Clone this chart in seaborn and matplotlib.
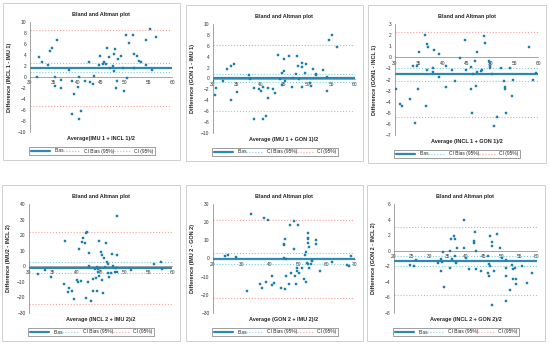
import numpy as np
import pandas as pd
import matplotlib
matplotlib.use("Agg")
import matplotlib.pyplot as plt
from matplotlib.patches import Rectangle
import seaborn as sns

# %% data
p1_avg = [31.4, 31.9, 32.5, 33.9, 34.2, 34.7, 35.2, 35.3, 35.6, 36.5, 36.5, 38.3, 38.8, 38.9, 39.3,
          40.2, 40.4, 40.4, 40.8, 41.7, 42.4, 42.7, 43.4, 43.6, 44.5, 44.8, 45.4, 45.6, 46.1, 46.2,
          46.7, 47.0, 47.5, 47.8, 47.8, 48.0, 48.3, 48.2, 48.5, 49.3, 49.6, 49.8, 50.2, 50.5, 50.9,
          51.8, 51.9, 52.0, 52.7, 53.1, 53.5, 54.6, 54.5, 55.4, 55.7, 56.6]
p1_diff = [0.0, 3.7, 2.7, 2.1, 4.7, 5.3, -1.7, 0.0, 6.7, -0.5, -2.0, 1.2, -6.7, -0.7, -3.0,
           -1.9, 0.0, -7.6, -6.2, -0.8, 2.8, -0.9, -1.3, 0.1, 2.1, 3.8, 2.4, 2.7, 2.4, 5.2,
           3.7, 1.6, 2.0, 4.2, 1.1, 5.1, -0.8, -2.0, 3.2, 3.8, 1.7, -2.6, 7.7, -0.1, 6.2,
           7.6, 4.1, 1.6, 3.8, 3.0, 2.7, 2.2, 6.8, 8.8, 1.3, 7.2]
p1_lines = [1.7, 0.9, 2.6, -5.2, 8.5]  # bias, CI bias low/high, CI low/high

p2_avg = [30.0, 30.4, 30.6, 32.1, 33.0, 33.7, 33.7, 34.5, 35.1, 37.6, 37.9, 38.6, 38.7, 39.7,
          40.1, 40.6, 40.6, 41.2, 41.7, 41.7, 42.7, 43.1, 43.7, 44.2, 44.5, 44.6, 45.0, 45.1,
          45.2, 46.0, 46.7, 47.0, 47.5, 47.8, 48.1, 48.0, 48.7, 48.8, 48.8, 49.4, 49.6, 50.5,
          50.7, 51.2, 51.7, 51.7, 53.3, 54.0, 54.1, 54.6, 55.2, 56.2]
p2_diff = [-0.5, -3.1, -1.7, -0.5, 1.7, 2.3, -3.9, 2.7, -2.5, 0.7, -0.1, -7.5, -1.7, -1.9,
           -2.3, -7.4, -1.5, -6.9, -1.7, -3.6, -2.0, -2.6, 4.4, -0.1, 1.0, -1.2, 3.6, 1.3,
           -0.4, 4.1, -1.5, 0.1, 0.9, 4.1, -0.1, 2.3, 2.8, -1.5, 2.1, 1.0, 2.6, -0.9,
           -1.3, 1.7, 0.9, 0.6, 1.5, 0.2, -2.3, 7.1, 8.0, 5.8]
p2_lines = [0.1, -0.6, 0.9, -5.9, 6.2]

p3_avg = [30.2, 31.1, 31.4, 33.2, 33.7, 34.2, 34.6, 34.8, 35.0, 36.2, 36.6, 36.7, 36.9, 36.8,
          38.0, 38.0, 38.1, 39.2, 39.2, 40.7, 40.7, 42.0, 42.5, 43.6, 44.6, 44.8, 46.0, 46.0,
          46.1, 46.3, 46.8, 47.0, 47.2, 47.3, 48.1, 48.2, 48.6, 48.9, 49.7, 49.9, 50.0, 50.0,
          50.3, 50.7, 51.4, 52.2, 52.8, 53.1, 53.1, 53.3, 54.1, 54.5, 54.8, 58.2, 58.9, 59.6]
p3_diff = [-2.9, -4.2, -4.4, -3.8, -0.8, -5.9, -0.8, -2.9, 0.5, 2.0, -4.4, 1.2, 0.9, -1.1,
           -1.0, -1.3, 0.7, 0.3, -1.8, -0.8, -2.7, -1.1, -2.1, -0.1, 1.6, -1.1, -0.9, -2.9,
           -5.0, -1.5, -0.3, -2.6, -1.3, 0.5, -1.2, -1.1, 1.9, 1.3, -0.3, -0.5, -0.8, -1.0,
           -1.5, -6.2, -5.4, -1.0, -2.1, -2.7, -2.9, -5.0, -1.0, -3.5, -2.0, 0.9, -2.0, -1.4]
p3_lines = [-1.5, -2.1, -1.0, -5.4, 2.25]

p4_avg = [31.8, 33.4, 34.6, 37.4, 37.5, 38.1, 38.4, 39.1, 39.5, 40.1, 40.2, 40.5, 40.9, 41.1,
          41.4, 41.7, 41.9, 42.1, 42.0, 42.4, 42.6, 42.5, 43.1, 43.4, 43.4, 43.9, 44.0, 44.3,
          44.3, 44.5, 44.5, 44.6, 44.7, 44.9, 45.1, 45.4, 45.4, 45.6, 45.7, 45.9, 46.1, 46.3,
          46.5, 46.6, 46.8, 47.1, 47.4, 47.7, 48.1, 48.2, 48.4, 48.4, 48.5, 51.4, 56.3, 57.6, 57.8]
p4_diff = [-4.9, -2.4, -6.9, -11.3, 16.1, -16.7, -14.1, -15.8, -21.0, -9.0, -9.9, 10.9, -9.4, 15.8,
           18.2, 14.8, 21.4, 22.3, -20.6, -10.3, 8.8, 0.2, -22.5, -8.1, -15.8, -1.9, -7.3, -15.8,
           -0.2, -1.7, -3.4, 16.3, -6.0, -1.3, 9.0, 7.3, -8.8, -17.3, 5.1, -0.2, 14.8, 2.6,
           1.3, -4.1, -6.6, -4.5, 7.7, 0.4, -3.9, -0.9, -3.4, 7.3, 32.3, -2.1, 1.3, 2.6, -1.7]
p4_lines = [-1.3, -4.3, 2.6, -24.2, 22.1]

p5_avg = [24.1, 25.3, 28.0, 31.8, 33.4, 36.7, 37.3, 37.9, 38.6, 39.5, 40.6, 40.6, 41.5, 44.0,
          44.9, 44.9, 44.9, 45.2, 45.5, 45.6, 45.6, 46.7, 47.0, 47.3, 48.4, 48.6, 49.0, 49.2,
          49.5, 49.5, 49.8, 50.2, 51.3, 52.0, 52.4, 52.6, 52.7, 53.2, 53.4, 53.4, 53.4, 53.5,
          53.6, 53.8, 53.9, 54.4, 54.7, 54.9, 56.2, 56.4, 57.6, 61.9, 67.3, 68.0, 68.6]
p5_diff = [1.3, 1.8, 0.6, -17.8, 24.4, -14.2, -16.4, 22.1, -13.2, 21.3, -9.6, -14.5, -13.6, -16.4,
           0.4, 7.9, 7.4, -16.9, 10.7, -0.4, -9.6, -13.8, 18.4, -8.1, 5.1, 20.6, -9.6, -14.2,
           -7.0, -5.5, 18.6, -8.1, -5.5, -11.4, 1.8, -13.2, 3.7, -2.6, 14.3, 11.4, 10.7, 8.3,
           -3.1, 6.6, -5.1, -3.1, -1.3, -0.7, 7.9, 10.1, -6.8, -2.2, -3.5, -4.0, 1.5]
p5_lines = [-0.2, -3.1, 2.8, -22.0, 21.0]

p6_avg = [24.4, 25.5, 26.1, 32.4, 33.1, 33.2, 33.4, 33.7, 34.0, 35.6, 35.8, 36.0, 36.3, 36.7,
          37.0, 37.0, 37.3, 37.4, 37.5, 39.6, 39.6, 40.1, 40.9, 42.3, 42.3, 42.6, 42.9, 43.0,
          44.3, 46.2, 46.4, 46.6, 46.7, 46.8, 46.8, 47.3, 47.5, 47.4, 48.1, 48.9, 49.7, 50.3,
          51.2, 51.3, 51.4, 51.2, 52.4, 53.0, 53.2, 53.3, 53.9, 54.0, 54.2, 55.9, 57.2, 58.5]
p6_diff = [-1.8, -1.9, -1.2, -1.6, -2.6, -1.0, -1.4, -0.2, -4.6, 0.0, -2.2, 1.5, -1.0, 1.9,
           1.5, -0.7, -1.4, -1.6, 0.4, 4.0, 0.3, -0.9, -2.3, 1.0, 1.2, 2.4, -0.1, -2.4,
           -2.6, -0.7, -2.9, -3.2, -1.7, 1.9, -1.9, 1.1, 0.6, -7.0, -2.6, 2.2, 0.4, -0.9,
           -1.2, -2.2, -3.2, -6.5, -5.0, -1.8, -2.4, -3.6, -2.2, -3.6, -4.3, -2.0, -4.1, -2.9]
p6_lines = [-1.3, -1.9, -0.7, -5.7, 3.0]

ylabels = ["Difference (INCL 1 - IMU 1)", "Difference (GON 1 - IMU 1)", "Difference (GON1 - INCL 1)",
           "Difference (IMU2 - INCL 2)", "Difference (IMU 2 - GON 2)", "Difference (GON 2 - INCL 2)"]
xlabels = ["Average(IMU 1 + INCL 1)/2", "Average (IMU 1 + GON 1)/2", "Average (INCL 1 + GON 1)/2",
           "Average (INCL 2 + IMU 2)/2", "Average (GON 2 + IMU 2)/2", "Average (INCL 2 + GON 2)/2"]
xticks = [range(30, 61, 5), range(30, 61, 5), range(30, 61, 5),
          range(30, 61, 5), range(20, 71, 10), range(20, 61, 5)]
yticks = [range(-10, 11, 2), range(-10, 11, 2), range(-7, 4, 1),
          range(-30, 41, 10), range(-30, 31, 10), range(-8, 7, 2)]

panels = [(p1_avg, p1_diff, p1_lines), (p2_avg, p2_diff, p2_lines), (p3_avg, p3_diff, p3_lines),
          (p4_avg, p4_diff, p4_lines), (p5_avg, p5_diff, p5_lines), (p6_avg, p6_diff, p6_lines)]

# %% layout in pixels (left, top, right, bottom) of each plot area
W, H = 550, 344
boxes = [(30, 22, 172, 132), (213, 24, 355, 133), (395, 24, 538, 135),
         (29, 204, 172, 313), (213, 204, 355, 313), (394, 204, 537, 313)]

sns.set_theme(style="white")
plt.rcParams["font.family"] = ["Liberation Sans", "DejaVu Sans"]

c_pts = "#1c7fae"
c_bias = "#2f88b3"
c_cib = "#7ccfe0"
c_ci = "#f5a3a3"

fig = plt.figure(figsize=(W / 100, H / 100), dpi=100)

for i, ((avg, diff, lines), (l, t, r, b)) in enumerate(zip(panels, boxes)):
    ax = fig.add_axes([l / W, 1 - b / H, (r - l) / W, (b - t) / H])
    # outer chart frame
    fig.patches.append(Rectangle(((l - 27) / W, 1 - (b + 28) / H), (r - l + 35) / W, (b - t + 47) / H,
                                 transform=fig.transFigure, fill=False, ec="#c8c8c8", lw=0.6))

    df = pd.DataFrame({"avg": avg, "diff": diff})
    bias, cib_lo, cib_hi, ci_lo, ci_hi = lines
    ax.axhline(bias, color=c_bias, lw=1.6, label="Bias", zorder=2)
    ax.axhline(cib_lo, color=c_cib, lw=0.8, ls=":", label="CI Bias (95%)", zorder=2)
    ax.axhline(cib_hi, color=c_cib, lw=0.8, ls=":", zorder=2)
    ax.axhline(ci_lo, color=c_ci, lw=0.8, ls=":", label="CI (95%)", zorder=2)
    ax.axhline(ci_hi, color=c_ci, lw=0.8, ls=":", zorder=2)
    sns.scatterplot(data=df, x="avg", y="diff", ax=ax, marker="s", s=4, color=c_pts,
                    edgecolor=c_pts, linewidth=0.3, zorder=3)

    xt, yt = list(xticks[i]), list(yticks[i])
    ax.set_xlim(xt[0], xt[-1])
    ax.set_ylim(yt[0], yt[-1])
    ax.set_xticks(xt)
    ax.set_yticks(yt)
    ax.tick_params(labelsize=3.5, length=1.5, width=0.4, pad=1, colors="#333333")

    for s in ["top", "right"]:
        ax.spines[s].set_visible(False)
    ax.spines["bottom"].set_position(("data", 0))
    for s in ["left", "bottom"]:
        ax.spines[s].set_color("#808080")
        ax.spines[s].set_linewidth(0.5)

    ax.set_title("Bland and Altman plot", fontsize=4, fontweight="bold", pad=4)
    ax.set_xlabel(xlabels[i], fontsize=4, fontweight="bold")
    ax.set_ylabel(ylabels[i], fontsize=4, fontweight="bold")
    ax.xaxis.set_label_coords(0.5, -0.04)
    ax.yaxis.set_label_coords(-0.125, 0.5)

    ax.legend(loc="center", ncol=3, mode="expand", fontsize=3.5, frameon=True,
              bbox_to_anchor=((l - 3) / W, 1 - (b + 23) / H, 130 / W, 8 / H),
              bbox_transform=fig.transFigure, handlelength=4, borderpad=0.3,
              fancybox=False, edgecolor="#555555").get_frame().set_linewidth(0.5)

fig.savefig("out.png", dpi=100, facecolor="white")
